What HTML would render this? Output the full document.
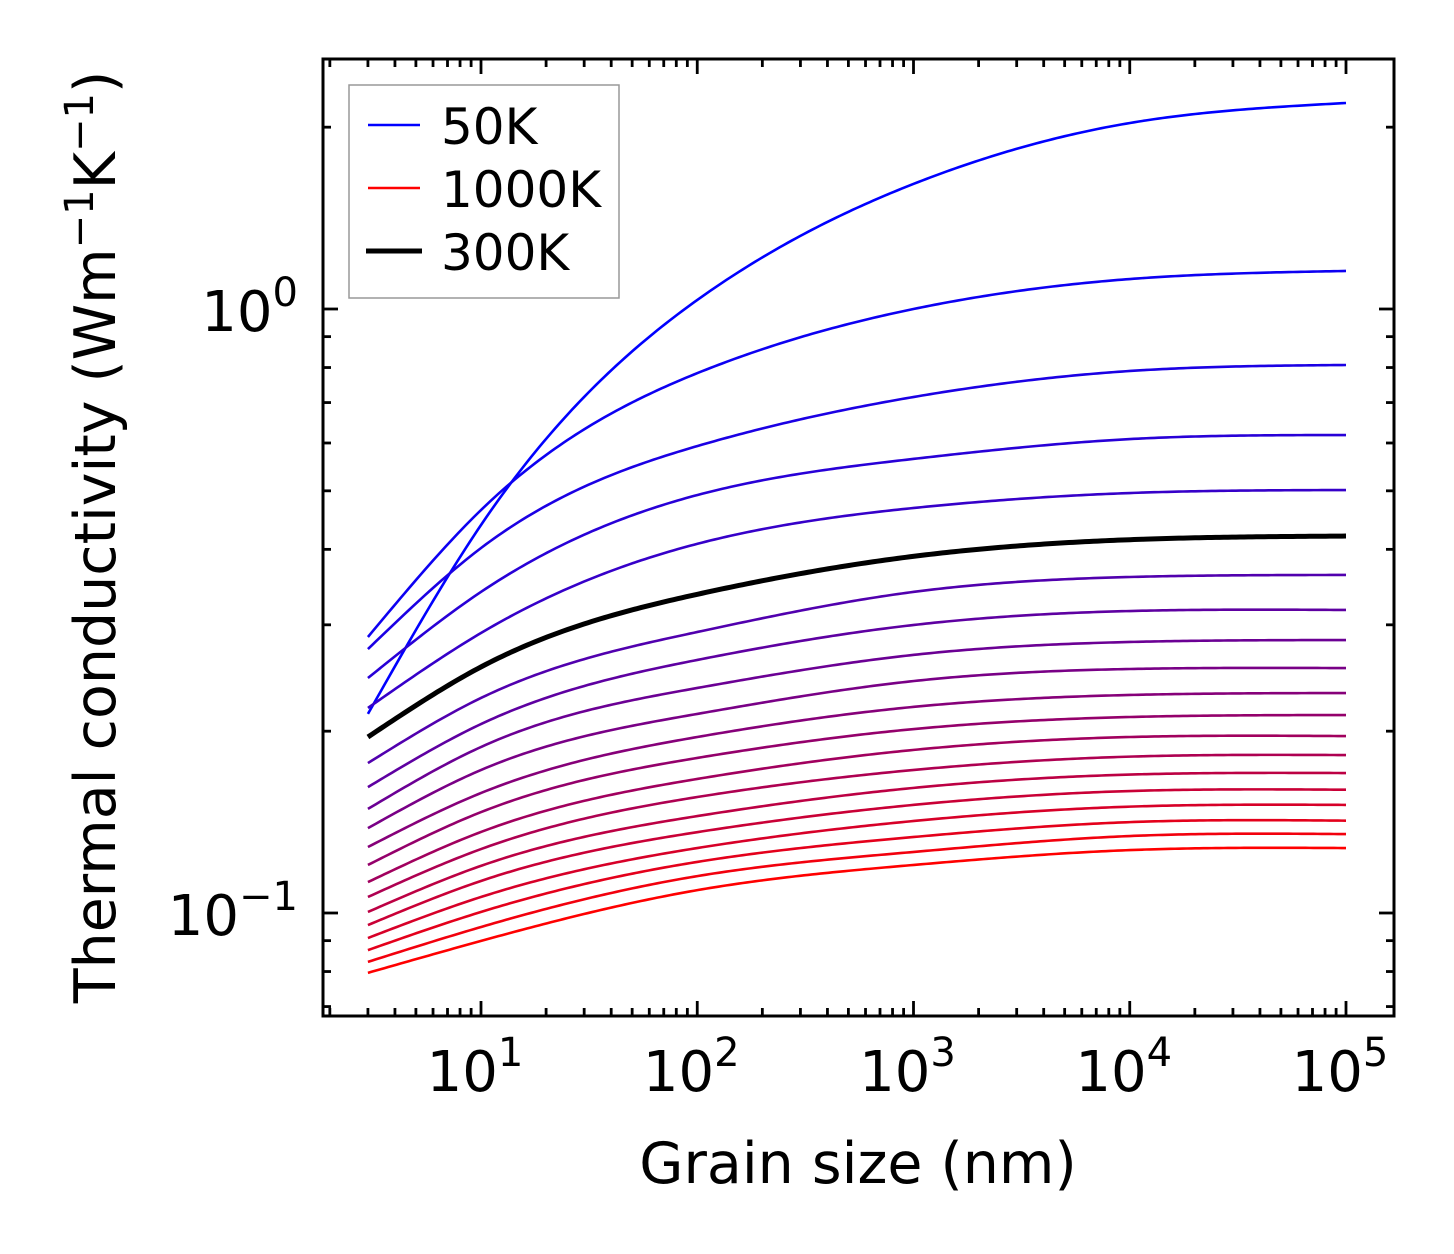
<!DOCTYPE html>
<html><head><meta charset="utf-8">
<style>
html,body{margin:0;padding:0;background:#fff;}
svg{display:block;font-family:"DejaVu Sans","Liberation Sans",sans-serif;}
</style></head>
<body>
<svg id="chart" width="1454" height="1254" viewBox="0 0 1454 1254" xmlns="http://www.w3.org/2000/svg">
<g id="ticks"></g>
<g id="curves"></g>
<rect x="323" y="59" width="1071" height="957" fill="none" stroke="#000" stroke-width="3"/>
<g id="labels" font-size="56" fill="#000"></g>
<text x="858" y="1183" font-size="57" text-anchor="middle">Grain size (nm)</text>
<text transform="translate(115,537) rotate(-90)" font-size="57" text-anchor="middle">Thermal conductivity (Wm<tspan dy="-22" font-size="40">−1</tspan><tspan dy="22">K</tspan><tspan dy="-22" font-size="40">−1</tspan><tspan dy="22">)</tspan></text>
<g>
<rect x="349" y="85" width="270" height="213" fill="#fff" stroke="#999" stroke-width="1.5"/>
<line x1="368" y1="125" x2="420" y2="125" stroke="#0000ff" stroke-width="2.6"/>
<text x="441" y="144" font-size="50">50K</text>
<line x1="368" y1="188" x2="420" y2="188" stroke="#ff0000" stroke-width="2.6"/>
<text x="441" y="207" font-size="50">1000K</text>
<line x1="366" y1="251" x2="422" y2="251" stroke="#000" stroke-width="5"/>
<text x="441" y="270" font-size="50">300K</text>
</g>
</svg>
<script>
const grainSizes = [3, 10, 100, 1000, 10000, 100000];
const temperatures = [50,100,150,200,250,300,350,400,450,500,550,600,650,700,750,800,850,900,950,1000];
const k50 = [0.2136,0.4389,1.035,1.611,2.032,2.193];
const k100 = [0.2864,0.4647,0.783,1.0,1.121,1.156];
const k150 = [0.2735,0.4020,0.593,0.715,0.7895,0.8078];
const k200 = [0.2449,0.3401,0.492,0.5647,0.6090,0.6185];
const k250 = [0.2185,0.2908,0.4085,0.4683,0.4958,0.5015];
const k300 = [0.1956,0.2555,0.3370,0.3895,0.4150,0.4208];
const k350 = [0.1771,0.2270,0.2919,0.3401,0.3600,0.3628];
const k400 = [0.1616,0.2055,0.2624,0.2998,0.3162,0.3175];
const k450 = [0.1487,0.1883,0.2358,0.2675,0.2810,0.2831];
const k500 = [0.1382,0.1725,0.2136,0.2421,0.2535,0.2544];
const k550 = [0.1286,0.1580,0.1956,0.2194,0.2296,0.2313];
const k600 = [0.1201,0.1469,0.1806,0.2016,0.2111,0.2127];
const k650 = [0.1125,0.1362,0.1667,0.1862,0.1956,0.1963];
const k700 = [0.1063,0.1276,0.1556,0.1725,0.1815,0.1826];
const k750 = [0.1004,0.1197,0.1447,0.1611,0.1695,0.1705];
const k800 = [0.0955,0.1130,0.1361,0.1510,0.1592,0.1600];
const k850 = [0.0909,0.1063,0.1281,0.1420,0.1500,0.1510];
const k900 = [0.0868,0.1004,0.1215,0.1336,0.1414,0.1422];
const k950 = [0.0830,0.0948,0.1151,0.1262,0.1341,0.1351];
const k1000 = [0.0796,0.0899,0.1091,0.1201,0.1271,0.1281];
const series = [k50,k100,k150,k200,k250,k300,k350,k400,k450,k500,k550,k600,k650,k700,k750,k800,k850,k900,k950,k1000];
const xTickLabels = ["1","2","3","4","5"];
const yTickLabels = ["0","−1"];

const NS = "http://www.w3.org/2000/svg";
const X0 = 481, XD = 216.25, Y0 = 309, YD = 604;
const L = 323, R = 1394, T = 59, B = 1016;
function xs(v){ return X0 + (Math.log10(v) - 1) * XD; }
function ys(v){ return Y0 - Math.log10(v) * YD; }

function mk(tag, attrs){ const e = document.createElementNS(NS, tag); for (const k in attrs) e.setAttribute(k, attrs[k]); return e; }

// natural cubic spline in log space
function spline(x, y){
  const n = x.length, h = [], a = [], l = [1], mu = [0], z = [0], c = new Array(n).fill(0), b = [], d = [];
  for (let i=0;i<n-1;i++) h.push(x[i+1]-x[i]);
  for (let i=1;i<n-1;i++) a[i] = 3/h[i]*(y[i+1]-y[i]) - 3/h[i-1]*(y[i]-y[i-1]);
  for (let i=1;i<n-1;i++){
    l[i] = 2*(x[i+1]-x[i-1]) - h[i-1]*mu[i-1];
    mu[i] = h[i]/l[i];
    z[i] = (a[i]-h[i-1]*z[i-1])/l[i];
  }
  for (let j=n-2;j>=0;j--){
    c[j] = z[j] - mu[j]*c[j+1];
    b[j] = (y[j+1]-y[j])/h[j] - h[j]*(c[j+1]+2*c[j])/3;
    d[j] = (c[j+1]-c[j])/(3*h[j]);
  }
  return function(t){
    let i=0; while (i<n-2 && t>x[i+1]) i++;
    const dx = t - x[i];
    return y[i] + b[i]*dx + c[i]*dx*dx + d[i]*dx*dx*dx;
  };
}

const curves = document.getElementById('curves');
const lx = grainSizes.map(Math.log10);
let blackPath = null;
series.forEach((vals, i) => {
  const ly = vals.map(Math.log10);
  const f = spline(lx, ly);
  let d = "";
  const N = 240;
  for (let j=0;j<=N;j++){
    const lxv = lx[0] + (lx[lx.length-1]-lx[0])*j/N;
    const v = f(lxv);
    const px = X0 + (lxv-1)*XD, py = Y0 - v*YD;
    d += (j?"L":"M") + px.toFixed(2) + "," + py.toFixed(2);
  }
  const T_ = temperatures[i];
  const frac = i/(series.length-1);
  const col = T_===300 ? "#000" : "rgb(" + Math.round(255*frac) + ",0," + Math.round(255*(1-frac)) + ")";
  const p = mk('path', {d:d, fill:'none', stroke:col, 'stroke-width': T_===300?5:2.6});
  
  
  if (T_===300) blackPath = p; else curves.appendChild(p);
});
curves.appendChild(blackPath);

const ticks = document.getElementById('ticks');
function tick(x1,y1,x2,y2,name){
  const l = mk('line',{x1:x1,y1:y1,x2:x2,y2:y2,stroke:'#000','stroke-width':2.8});
  
  
  ticks.appendChild(l);
}
for (let e=0;e<=5;e++){
  for (let k=1;k<=9;k++){
    const v = k*Math.pow(10,e), px = xs(v);
    if (px < L+1 || px > R-1) continue;
    const len = k===1 ? 15 : 8;
    tick(px,B,px,B-len,'x-tick');
    tick(px,T,px,T+len,'x-tick-top');
  }
}
for (let e=-2;e<=0;e++){
  for (let k=1;k<=9;k++){
    const v = k*Math.pow(10,e), py = ys(v);
    if (py < T+1 || py > B-1) continue;
    const len = k===1 ? 15 : 8;
    tick(L,py,L+len,py,'y-tick');
    tick(R,py,R-len,py,'y-tick-right');
  }
}

const labels = document.getElementById('labels');
xTickLabels.forEach((s, i) => {
  const px = xs(Math.pow(10, i+1));
  const t = mk('text',{x:px-6, y:1091, 'text-anchor':'middle'});
  t.innerHTML = '10<tspan dy="-25" font-size="40">' + s + '</tspan>';
  
  
  labels.appendChild(t);
});
yTickLabels.forEach((s, i) => {
  const py = ys(Math.pow(10, -i));
  const t = mk('text',{x:298, y:py+22, 'text-anchor':'end'});
  t.innerHTML = '10<tspan dy="-25" font-size="40">' + s + '</tspan>';
  
  
  labels.appendChild(t);
});
</script>
</body></html>
